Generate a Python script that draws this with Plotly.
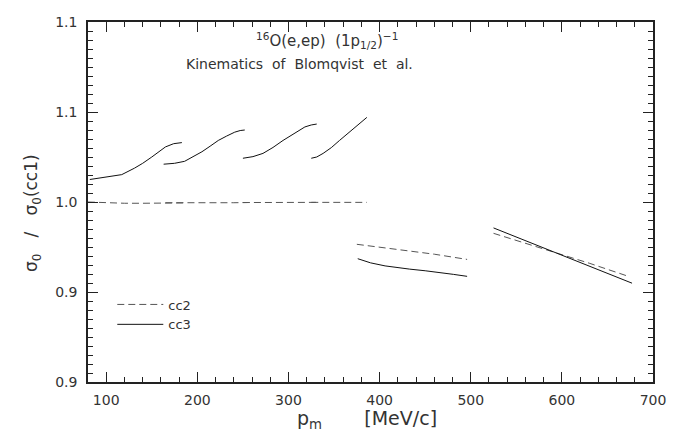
import plotly.graph_objects as go

# ---- data ----
# cc3 (solid) segments
cc3_x = [
    [82, 100, 117, 131, 140, 150, 158, 165, 174, 183],
    [163, 175, 186, 195, 205, 214, 223, 232, 241, 247, 252],
    [250, 261, 272, 283, 294, 306, 318, 325, 331],
    [325, 331, 338, 347, 356, 364, 371, 379, 386],
    [376, 390, 406, 420, 433, 450, 466, 481, 496],
    [525, 550, 575, 600, 625, 650, 677],
]
cc3_y = [
    [1.0125, 1.0140, 1.0152, 1.0188, 1.0215, 1.0250, 1.0280, 1.0306, 1.0324, 1.0330],
    [1.0210, 1.0215, 1.0226, 1.0250, 1.0279, 1.0310, 1.0342, 1.0366, 1.0388, 1.0397, 1.0400],
    [1.0243, 1.0252, 1.0270, 1.0303, 1.0342, 1.0380, 1.0417, 1.0428, 1.0433],
    [1.0243, 1.0250, 1.0270, 1.0302, 1.0342, 1.0375, 1.0406, 1.0440, 1.0470],
    [0.9685, 0.9662, 0.9645, 0.9635, 0.9627, 0.9618, 0.9609, 0.9598, 0.9587],
    [0.9856, 0.9805, 0.9755, 0.9704, 0.9653, 0.9603, 0.9549],
]
# cc2 (dashed) segments
cc2_x = [
    [80, 100, 120, 140, 160, 185],
    [165, 190, 215, 240, 255],
    [250, 275, 300, 332],
    [325, 350, 386],
    [375, 422, 460, 496],
    [525, 583, 630, 673],
]
cc2_y = [
    [1.0000, 0.9996, 0.9993, 0.9993, 0.9994, 0.9995],
    [0.9996, 0.9995, 0.9996, 0.9996, 0.9997],
    [0.9997, 0.9997, 0.9997, 0.9998],
    [0.9998, 0.9998, 0.9998],
    [0.9765, 0.9735, 0.9710, 0.9681],
    [0.9826, 0.9735, 0.9660, 0.9587],
]

x_range = [80, 700]
y_range = [0.9, 1.1]
y_tickvals = [0.9, 0.95, 1.0, 1.05, 1.1]
y_ticktext = ["0.9", "0.9", "1.0", "1.1", "1.1"]
x_tickvals = [100, 200, 300, 400, 500, 600, 700]
x_ticktext = ["100", "200", "300", "400", "500", "600", "700"]


def join(xs, ys):
    X, Y = [], []
    for a, b in zip(xs, ys):
        X += a + [None]
        Y += b + [None]
    return X, Y


FONT = "DejaVu Sans"
TXT = "#333333"

fig = go.Figure()
x2, y2 = join(cc2_x, cc2_y)
x3, y3 = join(cc3_x, cc3_y)
fig.add_trace(go.Scatter(x=x2, y=y2, mode="lines", name="cc2",
                         line=dict(color="#555555", width=1, dash="7px,4px"),
                         connectgaps=False))
fig.add_trace(go.Scatter(x=x3, y=y3, mode="lines", name="cc3",
                         line=dict(color="#111111", width=1),
                         connectgaps=False))

axis_common = dict(showline=True, linecolor="#222222", linewidth=1.5,
                   mirror="allticks", ticks="inside", tickcolor="#222222",
                   showgrid=False, zeroline=False, ticklabeloverflow="allow",
                   tickfont=dict(family=FONT, size=14, color=TXT))

fig.update_xaxes(range=x_range, tickmode="array", tickvals=x_tickvals,
                 ticktext=x_ticktext, ticklen=10, tickwidth=1,
                 ticklabelstandoff=4,
                 minor=dict(dtick=20, tick0=0, ticklen=5, ticks="inside",
                            tickcolor="#222222", showgrid=False),
                 **axis_common)
fig.update_yaxes(range=y_range, tickmode="array", tickvals=y_tickvals,
                 ticktext=y_ticktext, ticklen=10, tickwidth=1,
                 ticklabelstandoff=6,
                 minor=dict(dtick=0.005, tick0=0.9, ticklen=5, ticks="inside",
                            tickcolor="#222222", showgrid=False),
                 **axis_common)

# page body has an 8px margin: figure is shrunk/shifted so the plot box
# lands on the reference pixels
fig.update_layout(
    width=677, height=427,
    margin=dict(l=80, r=32, t=6, b=53),
    plot_bgcolor="white", paper_bgcolor="white",
    font=dict(family=FONT, size=14, color=TXT),
    showlegend=True,
    legend=dict(x=0.043, y=0.257, xanchor="left", yanchor="top",
                bgcolor="rgba(0,0,0,0)", itemwidth=46,
                font=dict(family=FONT, size=13, color=TXT),
                tracegroupgap=0),
    annotations=[
        dict(text="<sup>16</sup>O(e,ep)  (1p<sub>1/2</sub>)<sup>−1</sup>",
             xref="paper", yref="paper", x=0.423, y=0.948,
             xanchor="center", yanchor="middle",
             showarrow=False, font=dict(size=15)),
        dict(text="Kinematics  of  Blomqvist  et  al.",
             xref="paper", yref="paper", x=0.375, y=0.882,
             xanchor="center", yanchor="middle",
             showarrow=False, font=dict(size=14)),
        dict(text="σ<sub>0</sub>   /   σ<sub>0</sub>(cc1)",
             xref="paper", yref="paper", x=-0.097, y=0.47,
             xanchor="center", yanchor="middle",
             textangle=-90, showarrow=False, font=dict(size=17)),
        dict(text="p<sub>m</sub>       [MeV/c]",
             xref="paper", yref="paper", x=0.494, y=-0.103,
             xanchor="center", yanchor="middle",
             showarrow=False, font=dict(size=19)),
    ],
)

fig.write_html("out.html")
